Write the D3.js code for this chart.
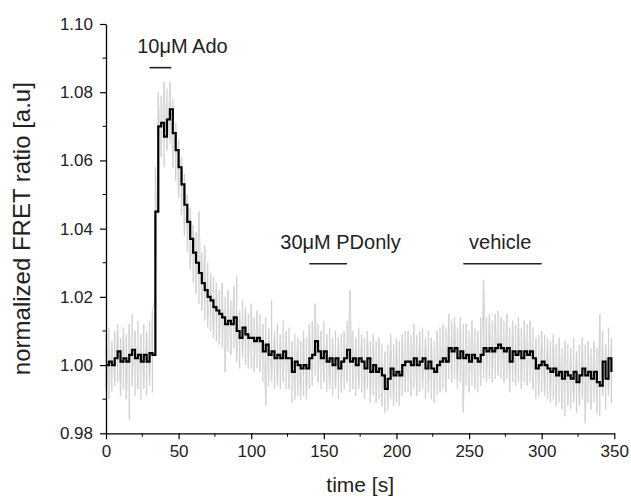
<!DOCTYPE html>
<html>
<head>
<meta charset="utf-8">
<script src="https://cdn.jsdelivr.net/npm/d3@7"></script>
<style>
  html, body { margin: 0; padding: 0; background: #fff; }
  svg { display: block; font-family: "Liberation Sans", Arial, sans-serif; }
</style>
</head>
<body>
<svg id="chart" width="631" height="499"></svg>
<script>
// ---- data (time in s, normalized FRET ratio) ----
const time = [0,2,4,6,8,10,12,14,16,18,20,22,24,26,28,30,32,34,36,38,40,42,44,46,48,50,52,54,56,58,60,62,64,66,68,70,72,74,76,78,80,82,84,86,88,90,92,94,96,98,100,102,104,106,108,110,112,114,116,118,120,122,124,126,128,130,132,134,136,138,140,142,144,146,148,150,152,154,156,158,160,162,164,166,168,170,172,174,176,178,180,182,184,186,188,190,192,194,196,198,200,202,204,206,208,210,212,214,216,218,220,222,224,226,228,230,232,234,236,238,240,242,244,246,248,250,252,254,256,258,260,262,264,266,268,270,272,274,276,278,280,282,284,286,288,290,292,294,296,298,300,302,304,306,308,310,312,314,316,318,320,322,324,326,328,330,332,334,336,338,340,342,344,346,348];

// smoothed trace (black)
const ratioSmooth = [1.000,1.001,1.000,1.002,1.004,1.001,1.002,1.001,1.003,1.0045,1.002,1.003,1.001,1.003,1.001,1.0035,1.003,
1.045,1.070,1.071,1.067,1.072,1.075,1.068,1.063,1.058,1.053,1.047,1.042,1.037,1.033,1.030,1.027,1.024,1.022,1.020,1.019,1.017,1.016,1.015,
1.014,1.012,1.013,1.012,1.014,1.010,1.008,1.011,1.009,1.008,1.008,1.007,1.008,1.007,1.004,1.006,1.003,1.004,1.002,1.003,
1.002,1.004,1.002,1.002,0.998,1.001,1.000,0.999,1.000,0.999,1.002,1.003,1.007,1.004,1.002,1.004,1.001,1.002,1.000,1.002,
0.999,1.001,1.002,1.0045,1.001,1.002,1.000,1.002,1.001,0.999,1.002,0.998,1.000,0.998,0.999,0.997,0.993,0.996,0.999,0.997,
0.998,0.997,1.000,1.001,1.001,1.000,1.002,1.000,1.001,1.002,0.999,1.001,0.999,0.998,1.000,1.001,1.002,1.001,1.005,1.004,
1.005,1.002,1.004,1.002,1.003,1.001,1.003,1.002,1.001,1.003,1.005,1.004,1.005,1.004,1.005,1.006,1.005,1.004,1.005,1.001,
1.004,1.003,1.004,1.002,1.004,1.003,1.004,1.002,0.999,1.000,1.001,1.000,0.999,0.998,0.999,0.997,0.998,0.996,0.998,0.997,
0.996,0.998,0.995,0.997,0.999,0.997,0.998,0.996,0.998,0.995,0.994,1.001,0.996,1.002,0.998];

// raw trace (grey) – upper and lower extent in each 2 s bin
const ratioRawHigh = [1.009,1.011,1.007,1.010,1.012,1.008,1.011,1.009,1.012,1.015,1.010,1.013,1.009,1.012,1.010,1.013,1.016,
1.058,1.080,1.079,1.083,1.081,1.083,1.078,1.071,1.066,1.061,1.056,1.050,1.046,1.041,1.039,1.045,1.033,1.035,1.030,1.027,1.026,1.024,1.022,
1.024,1.020,1.022,1.019,1.023,1.026,1.016,1.019,1.017,1.015,1.018,1.014,1.016,1.015,1.012,1.014,1.011,1.019,1.010,1.012,
1.009,1.013,1.010,1.011,1.007,1.009,1.008,1.007,1.010,1.008,1.012,1.013,1.018,1.012,1.010,1.013,1.009,1.011,1.008,1.010,
1.008,1.009,1.010,1.013,1.022,1.010,1.008,1.011,1.009,1.008,1.010,1.007,1.009,1.007,1.008,1.006,1.004,1.006,1.009,1.006,
1.008,1.007,1.009,1.010,1.010,1.009,1.012,1.009,1.010,1.011,1.008,1.010,1.008,1.007,1.010,1.011,1.012,1.011,1.015,1.013,
1.014,1.011,1.014,1.012,1.012,1.010,1.013,1.011,1.010,1.014,1.025,1.014,1.015,1.013,1.015,1.016,1.014,1.013,1.015,1.011,
1.013,1.012,1.014,1.011,1.013,1.012,1.013,1.011,1.008,1.009,1.010,1.009,1.008,1.007,1.009,1.006,1.008,1.005,1.007,1.006,
1.005,1.008,1.004,1.006,1.008,1.006,1.007,1.005,1.007,1.005,1.015,1.010,1.006,1.011,1.008];

const ratioRawLow = [0.993,0.990,0.992,0.994,0.995,0.991,0.993,0.990,0.984,0.994,0.991,0.993,0.990,0.993,0.991,0.994,0.992,
1.020,1.058,1.061,1.058,1.063,1.065,1.058,1.054,1.049,1.044,1.038,1.033,1.028,1.024,1.021,1.018,1.016,1.013,1.011,1.010,1.008,1.007,1.006,
1.005,0.998,1.004,1.003,1.005,1.001,0.999,1.002,1.000,0.999,0.999,0.998,0.999,0.998,0.995,0.988,0.994,0.995,0.993,0.994,
0.993,0.995,0.993,0.993,0.989,0.990,0.991,0.990,0.991,0.990,0.993,0.994,0.997,0.995,0.993,0.995,0.992,0.993,0.991,0.993,
0.990,0.992,0.993,0.995,0.992,0.993,0.991,0.993,0.992,0.990,0.993,0.989,0.991,0.989,0.990,0.988,0.986,0.987,0.990,0.988,
0.989,0.988,0.991,0.992,0.992,0.991,0.993,0.991,0.992,0.993,0.990,0.992,0.990,0.989,0.991,0.992,0.993,0.992,0.996,0.995,
0.996,0.993,0.995,0.986,0.994,0.992,0.994,0.993,0.992,0.994,0.996,0.995,0.996,0.995,0.996,0.997,0.996,0.995,0.996,0.992,
0.995,0.994,0.995,0.993,0.995,0.994,0.995,0.993,0.990,0.991,0.992,0.991,0.990,0.989,0.990,0.988,0.989,0.987,0.985,0.988,
0.987,0.989,0.986,0.988,0.990,0.983,0.989,0.987,0.989,0.986,0.985,0.991,0.987,0.991,0.989];

// drug applications
const annotLabels = ["10\u03bcM Ado", "30\u03bcM PDonly", "vehicle"];
const annotStart  = [30, 140, 246];
const annotEnd    = [45, 166, 300];
const annotLevel  = [1.0872, 1.0297, 1.0297];
const annotTextAt = [21.5, 120, 250];

// axes
const xTicks = [0, 50, 100, 150, 200, 250, 300, 350];
const xMinorTicks = [25, 75, 125, 175, 225, 275, 325];
const yTicks = [0.98, 1.00, 1.02, 1.04, 1.06, 1.08, 1.10];
const yMinorTicks = [0.99, 1.01, 1.03, 1.05, 1.07, 1.09];
const xTitle = "time [s]";
const yTitle = "normalized FRET ratio [a.u]";

// ---- drawing ----
const svg = d3.select("#chart");
const x = d3.scaleLinear().domain([0, 350]).range([106, 614.3]);
const y = d3.scaleLinear().domain([0.98, 1.10]).range([433.3, 24]);

// grey raw band
svg.append("g")
  .selectAll("line")
  .data(time)
  .join("line")
  .attr("x1", (d) => x(d)).attr("x2", (d) => x(d))
  .attr("y1", (d, i) => y(ratioRawLow[i]))
  .attr("y2", (d, i) => y(ratioRawHigh[i]))
  .attr("stroke", "#d0d0d0")
  .attr("stroke-width", 1.3);

// grey zig-zag connecting extents
const zig = [];
time.forEach((t, i) => { zig.push([t, i % 2 ? ratioRawLow[i] : ratioRawHigh[i]]); });
svg.append("path")
  .datum(zig)
  .attr("fill", "none")
  .attr("stroke", "#d6d6d6")
  .attr("stroke-width", 0.8)
  .attr("d", d3.line().x((d) => x(d[0])).y((d) => y(d[1])));

// black smoothed trace
svg.append("path")
  .datum(time.map((t, i) => [t, ratioSmooth[i]]))
  .attr("fill", "none")
  .attr("stroke", "#000")
  .attr("stroke-width", 2.2)
  .attr("d", d3.line().curve(d3.curveStepAfter).x((d) => x(d[0])).y((d) => y(d[1])));

// axes
const xAxis = svg.append("g").attr("transform", `translate(0,${y(0.98)})`)
  .call(d3.axisBottom(x).tickValues(xTicks).tickFormat(d3.format("d")).tickSize(6).tickSizeOuter(0).tickPadding(6));
xAxis.append("g").selectAll("line").data(xMinorTicks).join("line")
  .attr("x1", (d) => x(d)).attr("x2", (d) => x(d)).attr("y1", 0).attr("y2", 3.5).attr("stroke", "#000");

const yAxis = svg.append("g").attr("transform", `translate(${x(0)},0)`)
  .call(d3.axisLeft(y).tickValues(yTicks).tickFormat(d3.format(".2f")).tickSize(6).tickSizeOuter(0).tickPadding(7));
yAxis.append("g").selectAll("line").data(yMinorTicks).join("line")
  .attr("y1", (d) => y(d)).attr("y2", (d) => y(d)).attr("x1", 0).attr("x2", -3.5).attr("stroke", "#000");

[xAxis, yAxis].forEach((a) => {
  a.select(".domain").attr("stroke", "#000").attr("stroke-width", 1.3);
  a.selectAll(".tick line").attr("stroke", "#000").attr("stroke-width", 1.2);
  a.selectAll(".tick text").attr("font-size", 17).attr("fill", "#222")
    .attr("font-family", "Liberation Sans, Arial, sans-serif");
});

// axis titles
svg.append("text")
  .attr("x", x(175)).attr("y", 492)
  .attr("text-anchor", "middle")
  .attr("font-size", 21).attr("fill", "#222")
  .text(xTitle);

svg.append("text")
  .attr("transform", `translate(30,${(y(0.98) + y(1.10)) / 2}) rotate(-90)`)
  .attr("text-anchor", "middle")
  .attr("font-size", 24).attr("fill", "#222")
  .text(yTitle);

// annotations
const ann = svg.append("g");
annotLabels.forEach((lab, i) => {
  ann.append("line")
    .attr("x1", x(annotStart[i])).attr("x2", x(annotEnd[i]))
    .attr("y1", y(annotLevel[i])).attr("y2", y(annotLevel[i]))
    .attr("stroke", "#222").attr("stroke-width", 1.6);
  ann.append("text")
    .attr("x", x(annotTextAt[i])).attr("y", y(annotLevel[i]) - 15)
    .attr("font-size", 20).attr("fill", "#222")
    .text(lab);
});
</script>
</body>
</html>
